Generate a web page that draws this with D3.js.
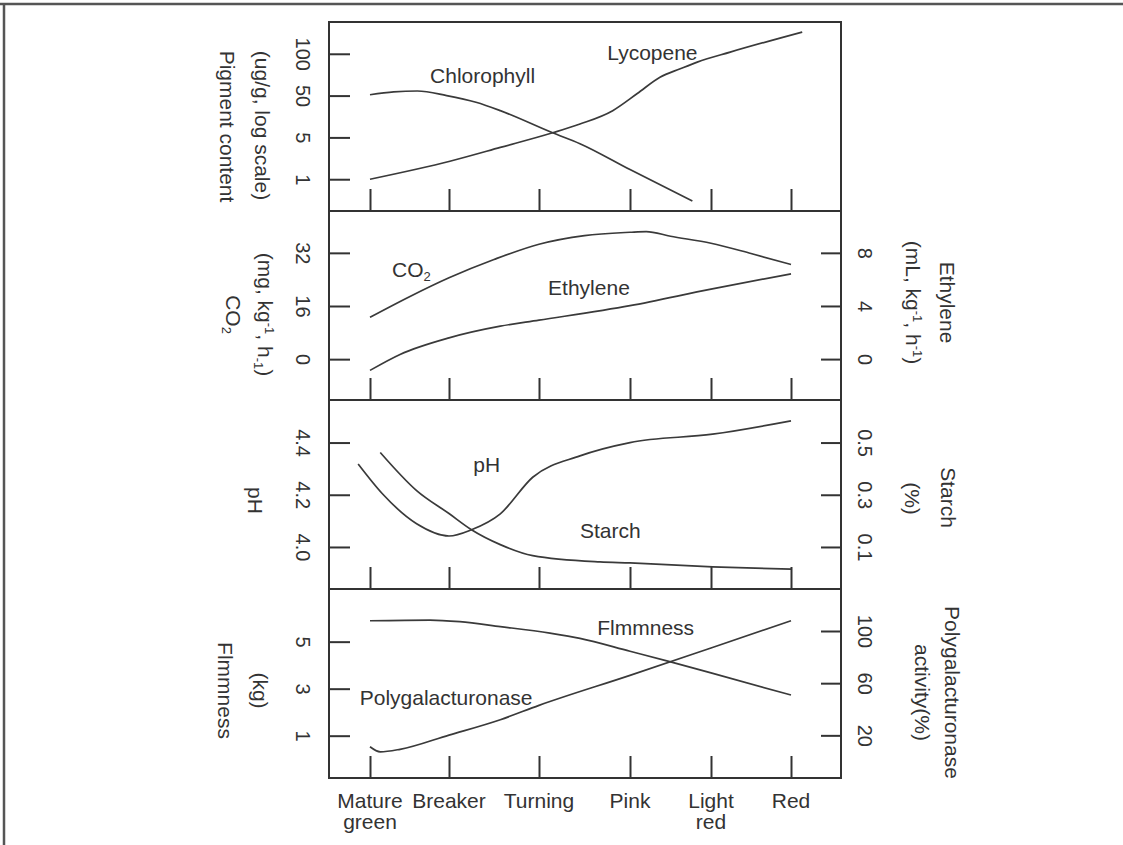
<!DOCTYPE html>
<html>
<head>
<meta charset="utf-8">
<script src="https://cdn.jsdelivr.net/npm/d3@7"></script>
<style>
  body { margin: 0; background: #fff; }
  svg text { font-family: "Liberation Sans", Arial, sans-serif; fill: #333; }
</style>
</head>
<body>
<svg id="chart" width="1123" height="845"></svg>
<script>
// ripening stages along the bottom
var stages = ["Mature green", "Breaker", "Turning", "Pink", "Light red", "Red"];

// pigment axis is drawn with evenly spaced labels (position index 0..3)
var pigmentTicks = ["1", "5", "50", "100"];
var co2Ticks = [0, 16, 32];
var ethyleneTicks = [0, 4, 8];
var phTicks = [4.0, 4.2, 4.4];
var starchTicks = [0.1, 0.3, 0.5];
var firmnessTicks = [1, 3, 5];
var pgTicks = [20, 60, 100];

// [stage, value] - stage 0 = Mature green ... 5 = Red
var chlorophyll = [[0, 2.02], [0.3, 2.09], [0.6, 2.11], [0.97, 2.0], [1.3, 1.84], [1.57, 1.64],
  [2.15, 1.11], [2.45, 0.85], [3, 0.23], [3.77, -0.52]];
var lycopene = [[0, 0], [1.01, 0.43], [1.57, 0.76], [2.15, 1.11], [2.45, 1.32], [2.81, 1.64],
  [3.09, 2.05], [3.37, 2.44], [3.62, 2.64], [3.83, 2.8], [4.24, 3.04], [5.14, 3.52]];
var co2 = [[0, 12.6], [0.5, 18.8], [1, 24.5], [1.5, 30.0], [2, 34.6], [2.5, 37.2], [3, 38.2],
  [3.2, 38.4], [3.5, 37.0], [4, 34.9], [4.5, 31.8], [5, 28.5]];
var ethylene = [[0, -0.85], [0.38, 0.35], [1, 1.6], [1.57, 2.48], [2, 2.93], [3, 4.02], [4, 5.27], [5, 6.42]];
var ph = [[-0.15, 4.318], [0.16, 4.203], [0.59, 4.089], [1.0, 4.042], [1.25, 4.066], [1.57, 4.127],
  [1.93, 4.267], [2.45, 4.349], [3.0, 4.40], [4.02, 4.432], [5.0, 4.483]];
var starch = [[0.13, 0.462], [0.59, 0.316], [1.0, 0.228], [1.25, 0.166], [1.57, 0.109], [1.93, 0.067],
  [2.67, 0.043], [3.0, 0.039], [4.02, 0.024], [5.0, 0.015]];
var firmness = [[0, 5.89], [0.76, 5.92], [1.12, 5.85], [1.57, 5.64], [2.12, 5.36], [2.45, 5.14],
  [3, 4.59], [3.49, 4.15], [4, 3.67], [5, 2.73]];
var polygalacturonase = [[0, 11.3], [0.13, 7.4], [0.38, 9.3], [1, 20.2], [1.57, 32], [2, 43],
  [3, 66], [4, 87], [5, 107.9]];

var frame = {left: 329, right: 841, top: 22, bottom: 778};
var panelH = (frame.bottom - frame.top) / 4;
// stage ticks are not evenly spaced in the figure
var stageX = [370, 449, 539, 630, 711, 791];

var svg = d3.select("#chart");
var ink = "#333";

// outer border of the figure (top and left only)
svg.append("line").attr("x1", 0).attr("x2", 1123).attr("y1", 4).attr("y2", 4)
  .attr("stroke", "#555").attr("stroke-width", 2.5);
svg.append("line").attr("x1", 4).attr("x2", 4).attr("y1", 3).attr("y2", 845)
  .attr("stroke", "#555").attr("stroke-width", 2.5);

var x = d3.scaleLinear().domain(d3.range(stages.length)).range(stageX);

// text with sub / superscript pieces: parts = [[str, "sup"|"sub"|null], ...]
function richText(sel, parts) {
  var shift = 0;
  parts.forEach(function(p) {
    var t = sel.append("tspan").text(p[0]);
    var want = p[1] === "sup" ? -7 : p[1] === "sub" ? 4 : 0;
    if (want !== shift) t.attr("dy", want - shift);
    if (p[1]) t.attr("font-size", 13);
    shift = want;
  });
}

var panels = [
  {
    left: {domain: [-0.76, 3.76], ticks: [0, 1, 2, 3], fmt: function(d) { return pigmentTicks[d]; },
      titles: [{off: -102, dy: 10, parts: [["Pigment content"]]},
               {off: -67, dy: 9, parts: [["(ug/g, log scale)"]]}]},
    series: [{data: chlorophyll, side: "left"}, {data: lycopene, side: "left"}],
    labels: [{at: [0.76, 2.30], side: "left", parts: [["Chlorophyll"]]},
             {at: [2.75, 2.85], side: "left", parts: [["Lycopene"]]}]
  },
  {
    left: {domain: [-12.3, 44.6], ticks: co2Ticks, fmt: d3.format("d"),
      titles: [{off: -96, dy: 9, parts: [["CO"], ["2", "sub"]]},
               {off: -64, dy: 9, parts: [["(mg, kg"], ["-1", "sup"], [", h"], ["-1", "sub"], [")"]]}]},
    right: {domain: [-3.08, 11.15], ticks: ethyleneTicks, fmt: d3.format("d"),
      titles: [{off: 106, dy: -3, parts: [["Ethylene"]]},
               {off: 72, dy: -3, parts: [["(mL, kg"], ["-1", "sup"], [", h"], ["-1", "sup"], [")"]]}]},
    series: [{data: co2, side: "left"}, {data: ethylene, side: "right"}],
    labels: [{at: [0.28, 24.7], side: "left", parts: [["CO"], ["2", "sub"]]},
             {at: [2.10, 19.3], side: "left", parts: [["Ethylene"]]}]
  },
  {
    left: {domain: [3.839, 4.563], ticks: phTicks, fmt: d3.format(".1f"),
      titles: [{off: -74, dy: 6, parts: [["pH"]]}]},
    right: {domain: [-0.061, 0.663], ticks: starchTicks, fmt: d3.format(".1f"),
      titles: [{off: 107, dy: 3, parts: [["Starch"]]},
               {off: 71, dy: 4, parts: [["(%)"]]}]},
    series: [{data: ph, side: "left"}, {data: starch, side: "right"}],
    labels: [{at: [1.27, 4.287], side: "left", parts: [["pH"]]},
             {at: [2.45, 4.034], side: "left", parts: [["Starch"]]}]
  },
  {
    left: {domain: [-0.8, 7.24], ticks: firmnessTicks, fmt: d3.format("d"),
      titles: [{off: -104, dy: 7, parts: [["Flmmness"]]},
               {off: -69, dy: 7, parts: [["(kg)"]]}]},
    right: {domain: [-12.7, 132.2], ticks: pgTicks, fmt: d3.format("d"),
      titles: [{off: 111, dy: 9, parts: [["Polygalacturonase"]]},
               {off: 81, dy: 9, parts: [["activity(%)"]]}]},
    series: [{data: firmness, side: "left"}, {data: polygalacturonase, side: "right"}],
    labels: [{at: [2.64, 5.28], side: "left", parts: [["Flmmness"]]},
             {at: [-0.13, 2.31], side: "left", parts: [["Polygalacturonase"]]}]
  }
];

panels.forEach(function(p, i) {
  var top = frame.top + i * panelH,
      bottom = top + panelH;
  var g = svg.append("g");
  var scales = {};

  ["left", "right"].forEach(function(side) {
    var cfg = p[side];
    if (!cfg) return;
    var y = d3.scaleLinear().domain(cfg.domain).range([bottom, top]);
    scales[side] = y;

    var axis = (side === "left" ? d3.axisLeft(y) : d3.axisRight(y))
      .tickValues(cfg.ticks).tickFormat(cfg.fmt)
      .tickSize(side === "left" ? -21 : -20).tickPadding(0);
    var ax = g.append("g")
      .attr("transform", "translate(" + (side === "left" ? frame.left : frame.right) + ",0)")
      .call(axis);
    ax.select(".domain").remove();
    ax.selectAll(".tick line").attr("stroke", ink).attr("stroke-width", 2);
    ax.selectAll(".tick text")
      .attr("x", null).attr("dy", "0.35em")
      .attr("transform", "translate(" + (side === "left" ? -26 : 24) + ",0) rotate(90)")
      .attr("text-anchor", "middle")
      .attr("font-size", 20)
      .attr("font-family", "Liberation Sans, Arial, sans-serif")
      .attr("fill", ink);

    var mid = (top + bottom) / 2;
    var base = side === "left" ? frame.left : frame.right;
    cfg.titles.forEach(function(t) {
      var txt = g.append("text")
        .attr("transform", "translate(" + (base + t.off) + "," + (mid + t.dy) + ") rotate(90)")
        .attr("text-anchor", "middle")
        .attr("dy", "0.35em")
        .attr("font-size", 21);
      richText(txt, t.parts);
    });
  });

  // stage ticks along the bottom of each panel
  var bx = g.append("g")
    .attr("transform", "translate(0," + bottom + ")")
    .call(d3.axisBottom(x).tickValues(d3.range(stages.length)).tickSize(-22).tickFormat(""));
  bx.select(".domain").remove();
  bx.selectAll(".tick line").attr("stroke", ink).attr("stroke-width", 2);

  var line = d3.line().curve(d3.curveMonotoneX);
  p.series.forEach(function(s) {
    var y = scales[s.side];
    g.append("path")
      .attr("d", line.x(function(d) { return x(d[0]); }).y(function(d) { return y(d[1]); })(s.data))
      .attr("fill", "none")
      .attr("stroke", "#3a3a3a")
      .attr("stroke-width", 1.7);
  });

  p.labels.forEach(function(l) {
    var txt = g.append("text")
      .attr("x", x(l.at[0]))
      .attr("y", scales[l.side](l.at[1]))
      .attr("font-size", 21);
    richText(txt, l.parts);
  });

  if (i > 0) {
    g.append("line").attr("x1", frame.left).attr("x2", frame.right)
      .attr("y1", top).attr("y2", top).attr("stroke", ink).attr("stroke-width", 2);
  }
});

// plot frame
svg.append("rect")
  .attr("x", frame.left).attr("y", frame.top)
  .attr("width", frame.right - frame.left).attr("height", frame.bottom - frame.top)
  .attr("fill", "none").attr("stroke", ink).attr("stroke-width", 2);

// stage names under the bottom panel
var names = svg.append("g");
stages.forEach(function(s, i) {
  var t = names.append("text")
    .attr("x", x(i)).attr("y", frame.bottom + 30)
    .attr("text-anchor", "middle")
    .attr("font-size", 21);
  s.split(" ").forEach(function(w, j) {
    t.append("tspan").attr("x", x(i)).attr("dy", j ? 21 : 0).text(w);
  });
});
</script>
</body>
</html>
